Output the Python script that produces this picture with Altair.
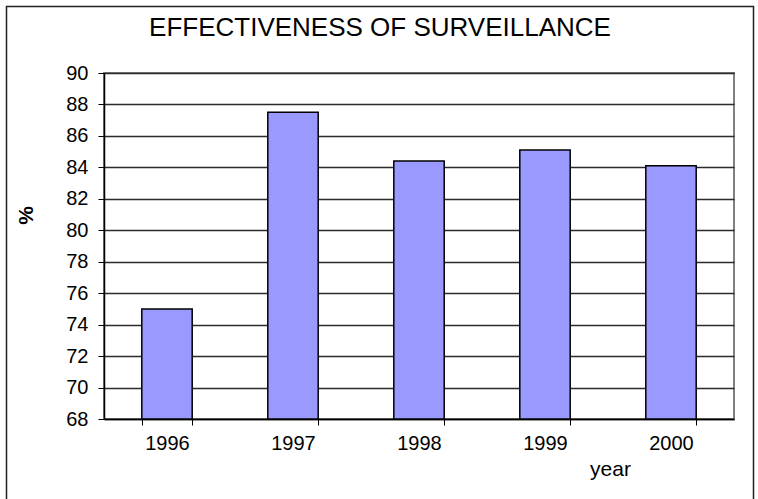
import altair as alt
import pandas as pd

years = ["1996", "1997", "1998", "1999", "2000"]
values = [75.0, 87.5, 84.4, 85.1, 84.1]
y_ticks = [68, 70, 72, 74, 76, 78, 80, 82, 84, 86, 88, 90]
title_text = "EFFECTIVENESS OF SURVEILLANCE"

df = pd.DataFrame({"year": years, "pct": values})
FONT = "Liberation Sans"

bars = alt.Chart(df).mark_bar(fill="#9999FF", stroke="#000000", strokeWidth=1.5).encode(
    x=alt.X(
        "year:N",
        sort=years,
        scale=alt.Scale(paddingInner=0.6, paddingOuter=0.3),
        axis=alt.Axis(
            title="year", labelAngle=0, tickBand="extent", grid=False,
            labelFont=FONT, labelFontSize=20, labelColor="#000000",
            labelBaseline="top", labelPadding=8, tickSize=6,
            tickColor="#000000", domainColor="#000000", domainWidth=1.5,
            titleFont=FONT, titleFontSize=21, titleFontWeight="normal",
            titleColor="#000000", titleX=506, titleY=56, titleBaseline="alphabetic",
            titleAlign="center",
        ),
    ),
    y=alt.Y(
        "pct:Q",
        scale=alt.Scale(domain=[68, 90], nice=False, zero=False),
        axis=alt.Axis(
            values=y_ticks, title="%", grid=True, gridColor="#2a2a2a", gridWidth=1.3,
            labelFont=FONT, labelFontSize=20, labelColor="#000000",
            labelPadding=10, tickSize=6, tickColor="#000000",
            domainColor="#000000", domainWidth=1.5,
            titleFont=FONT, titleFontSize=21, titleFontWeight="bold",
            titleColor="#000000", titleX=-78, titleY=142, titleAngle=-90,
            titleAlign="center", titleBaseline="middle",
        ),
    ),
    y2=alt.datum(68),
)

title = alt.Chart(pd.DataFrame({"t": [title_text]})).mark_text(
    font=FONT, fontSize=26, align="center", baseline="alphabetic", color="#000000"
).encode(text="t:N", x=alt.value(276), y=alt.value(-37))

frame = alt.Chart(pd.DataFrame({"a": [0]})).mark_rect(
    fill=None, stroke="#222222", strokeWidth=1.5
).encode(
    x=alt.value(-97.5), x2=alt.value(649.5), y=alt.value(-66.5), y2=alt.value(428)
)

chart = alt.layer(bars, title, frame).properties(
    width=630,
    height=346,
    autosize=alt.AutoSizeParams(type="none"),
    padding={"left": 104, "top": 73, "right": 24, "bottom": 80},
    background="#ffffff",
).configure_view(stroke="#808080", strokeWidth=2)

chart.save("out.html", embed_options={"renderer": "svg", "actions": False})
